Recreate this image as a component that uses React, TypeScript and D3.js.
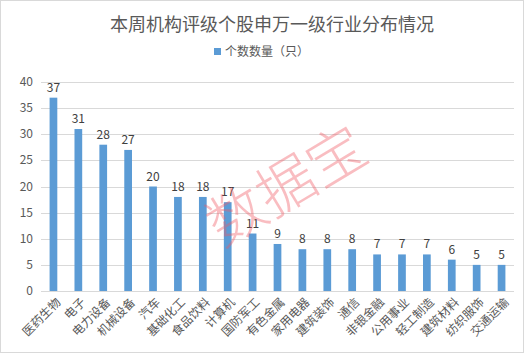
import React, { useEffect, useRef } from "react";
import * as d3 from "d3";

// industries (申万一级) and number of rated stocks
const industries = [
  "医药生物", "电子", "电力设备", "机械设备", "汽车", "基础化工", "食品饮料", "计算机", "国防军工",
  "有色金属", "家用电器", "建筑装饰", "通信", "非银金融", "公用事业", "轻工制造", "建筑材料", "纺织服饰", "交通运输",
];
const counts = [37, 31, 28, 27, 20, 18, 18, 17, 11, 9, 8, 8, 8, 7, 7, 7, 6, 5, 5];
const yTicks = [0, 5, 10, 15, 20, 25, 30, 35, 40];

const title = "本周机构评级个股申万一级行业分布情况";
const seriesName = "个数数量（只）";
const font = "'Noto Sans CJK SC', 'Noto Sans', sans-serif";

const App = () => {
  const svgRef = useRef<SVGSVGElement>(null);

  useEffect(() => {
    const W = 529;
    const H = 355;
    const margin = { top: 82, right: 15, bottom: 64, left: 41 };
    const width = W - margin.left - margin.right;
    const height = H - margin.top - margin.bottom;

    const svg = d3.select(svgRef.current);
    svg.selectAll("*").remove();
    svg.attr("width", W).attr("height", H);

    // outer frame
    svg.append("rect").attr("x", 0.5).attr("y", 0.5).attr("width", 523).attr("height", 352)
      .attr("fill", "#fff").attr("stroke", "#d9d9d9");

    // title and legend
    svg.append("text").attr("x", 272).attr("y", 31).attr("text-anchor", "middle")
      .attr("font-family", font).attr("font-size", 18).attr("fill", "#595959").text(title);
    svg.append("rect").attr("x", 214).attr("y", 48).attr("width", 7).attr("height", 7).attr("fill", "#5b9bd5");
    svg.append("text").attr("x", 225).attr("y", 56).attr("font-family", font).attr("font-size", 12)
      .attr("fill", "#595959").text(seriesName);

    const g = svg.append("g").attr("transform", `translate(${margin.left},${margin.top})`);

    const x = d3.scaleBand().domain(industries).range([0, width]).paddingInner(0.69).paddingOuter(0.345);
    const y = d3.scaleLinear().domain([0, 40]).range([height, 0]);

    // gridlines
    g.selectAll(".grid").data(yTicks).enter().append("line")
      .attr("x1", 0).attr("x2", width)
      .attr("y1", (d) => Math.round(y(d)) + 0.5).attr("y2", (d) => Math.round(y(d)) + 0.5)
      .attr("stroke", "#d9d9d9");

    // y labels
    g.selectAll(".ylab").data(yTicks).enter().append("text")
      .attr("x", -8).attr("y", (d) => y(d) + 4).attr("text-anchor", "end")
      .attr("font-family", font).attr("font-size", 12).attr("fill", "#595959").text((d) => d);

    // bars
    g.selectAll(".bar").data(counts).enter().append("rect")
      .attr("x", (d, i) => x(industries[i])!).attr("y", (d) => y(d))
      .attr("width", x.bandwidth()).attr("height", (d) => height - y(d))
      .attr("fill", "#5b9bd5");

    // value labels
    g.selectAll(".val").data(counts).enter().append("text")
      .attr("x", (d, i) => x(industries[i])! + x.bandwidth() / 2).attr("y", (d) => y(d) - 6)
      .attr("text-anchor", "middle").attr("font-family", font).attr("font-size", 12)
      .attr("fill", "#404040").text((d) => d);

    // category labels, rotated
    g.selectAll(".xlab").data(industries).enter().append("text")
      .attr("transform", (d) => `translate(${x(d)! + x.bandwidth() / 2 + 5},${height + 9}) rotate(-45)`)
      .attr("text-anchor", "end").attr("dy", "0.35em")
      .attr("font-family", font).attr("font-size", 12).attr("fill", "#595959").text((d) => d);

    // watermark
    svg.append("text").attr("transform", "translate(284,182) rotate(-31)")
      .attr("text-anchor", "middle").attr("dominant-baseline", "central")
      .attr("font-family", font).attr("font-size", 58).attr("font-weight", 300)
      .attr("fill", "rgba(240,90,100,0.4)").text("数据宝");
  }, []);

  return <svg ref={svgRef} style={{ position: "absolute", left: 0, top: 0 }}></svg>;
};

export default App;
